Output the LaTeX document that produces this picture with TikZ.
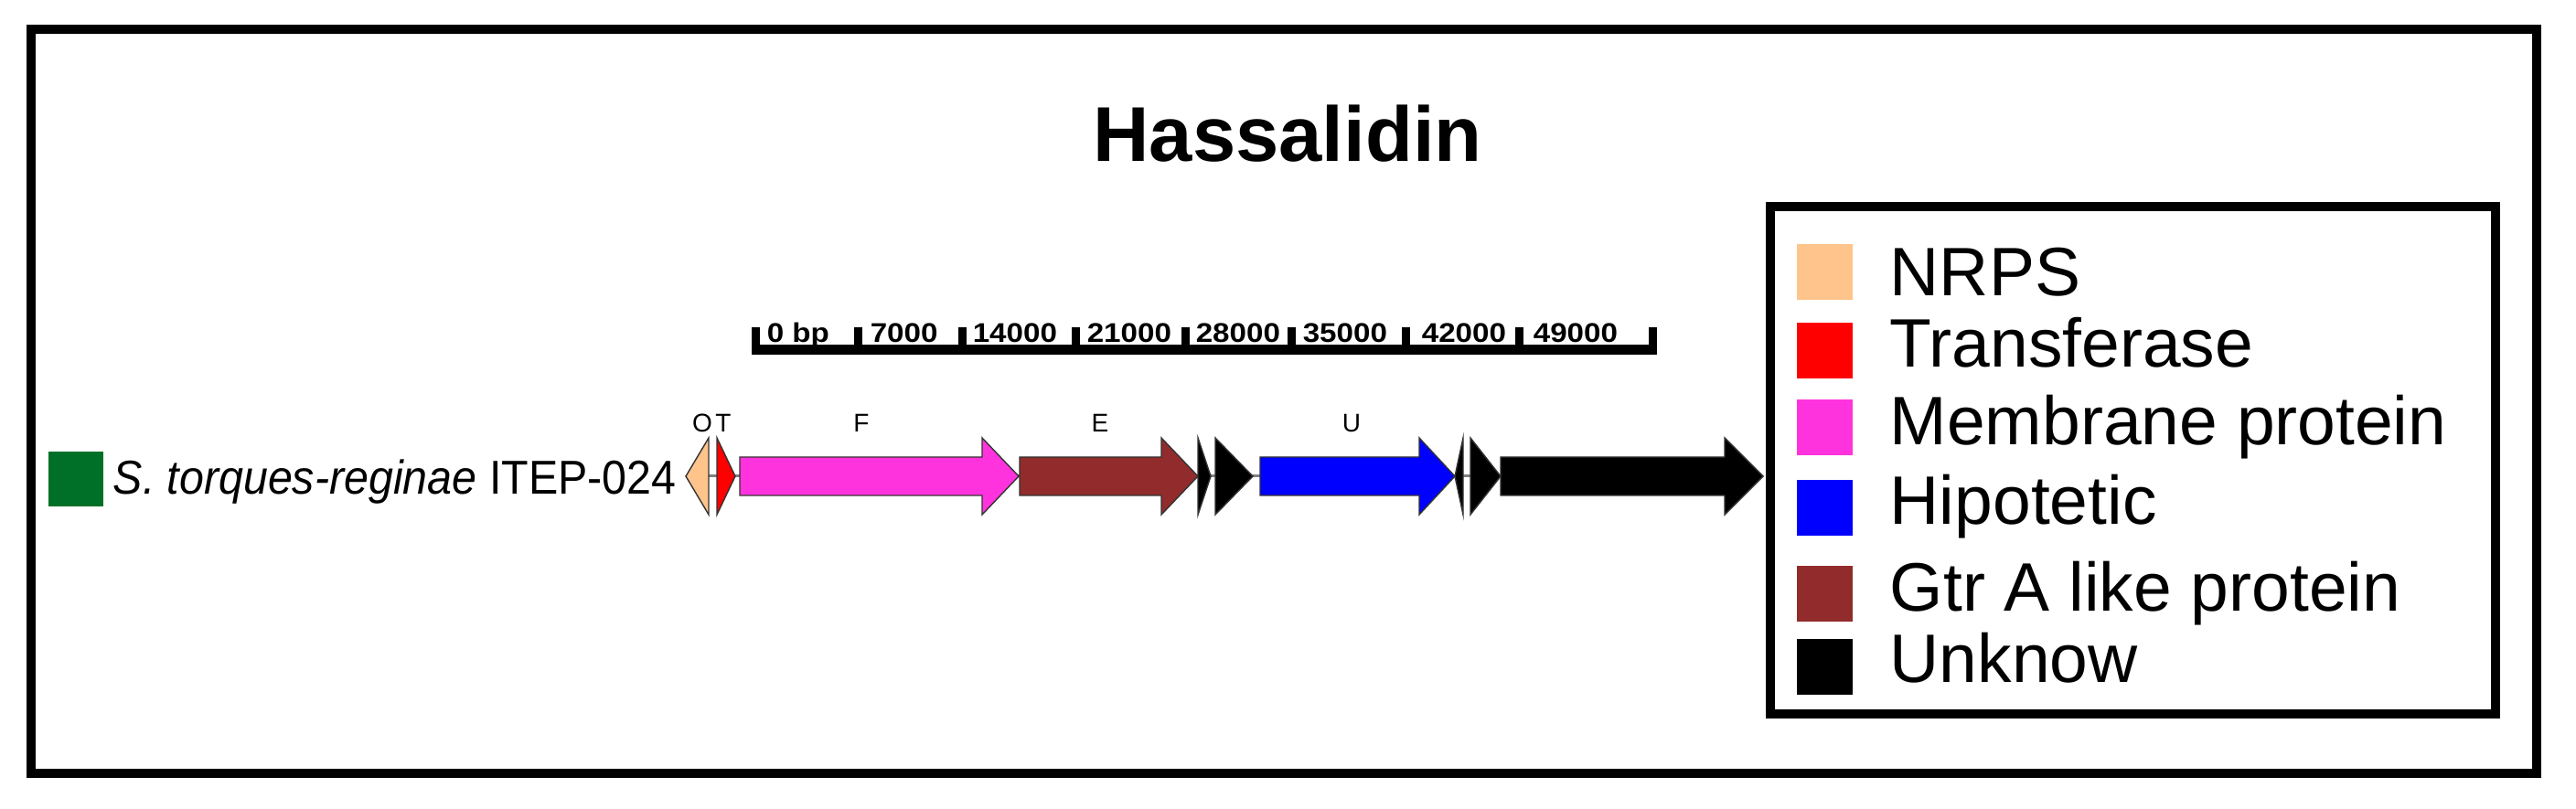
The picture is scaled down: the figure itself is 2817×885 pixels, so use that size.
\documentclass[tikz,border=0pt]{standalone}
\usepackage{fontspec}
\setmainfont{Liberation Sans}
\definecolor{nrps}{RGB}{255,196,140}
\definecolor{transf}{RGB}{255,0,0}
\definecolor{membr}{RGB}{255,51,221}
\definecolor{hipo}{RGB}{0,0,255}
\definecolor{gtr}{RGB}{146,43,43}
\definecolor{sgreen}{RGB}{0,112,40}
\definecolor{backbone}{RGB}{128,128,128}
\tikzset{
  frame/.style={draw=black, line width=2.5pt},
  gene/.style={draw=black!80, line width=0.35pt},
  legtext/.style={anchor=base west, inner sep=0pt, font=\fontsize{18.75}{20}\selectfont},
  genelabel/.style={anchor=base, inner sep=0pt, font=\fontsize{7}{8}\selectfont},
  scalelabel/.style={anchor=base west, inner sep=0pt, font=\bfseries\fontsize{7.4}{8}\selectfont},
  tickmark/.style={fill=black, draw=none}
}
\newcommand{\sclab}[1]{\scalebox{1.12}[1]{#1}}
\newcommand{\rgene}[4]{% x1, x2, headstart, color
  \filldraw[gene, fill=#4] (#1,500) -- (#3,500) -- (#3,479) -- (#2,521) -- (#3,563) -- (#3,542) -- (#1,542) -- cycle;}
\newcommand{\rtri}[3]{% x1, x2, color
  \filldraw[gene, fill=#3] (#1,479) -- (#2,521) -- (#1,563) -- cycle;}
\newcommand{\ltri}[3]{% x1 (tip), x2, color
  \filldraw[gene, fill=#3] (#2,479) -- (#1,521) -- (#2,563) -- cycle;}
\begin{document}
\begin{tikzpicture}[x=0.25pt, y=-0.25pt]
  \useasboundingbox (0,0) rectangle (2817,885);
  % outer frame
  \draw[frame] (34,32) rectangle (2774,846);
  % title
  \node[anchor=base, inner sep=0pt, font=\bfseries\fontsize{21.25}{24}\selectfont] (title) at (1408,177) {Hassalidin};
  % scale bar
  \fill (822,377) rectangle (1812,388);
  \foreach \tx in {822,934,1048,1172,1292,1408,1533,1657,1803} {
    \fill[tickmark] (\tx,358) rectangle (\tx+9,388);
  }
  \node[scalelabel] (s0) at (838,375) {\sclab{0 bp}};
  \node[scalelabel] (s1) at (951,375) {\sclab{7000}};
  \node[scalelabel] (s2) at (1063,375) {\sclab{14000}};
  \node[scalelabel] (s3) at (1188,375) {\sclab{21000}};
  \node[scalelabel] (s4) at (1307,375) {\sclab{28000}};
  \node[scalelabel] (s5) at (1424,375) {\sclab{35000}};
  \node[scalelabel] (s6) at (1554,375) {\sclab{42000}};
  \node[scalelabel] (s7) at (1676,375) {\sclab{49000}};
  % species
  \fill[sgreen] (53,494) rectangle (113,554);
  \node[anchor=base west, inner sep=0pt, font=\fontsize{13}{15}\selectfont] (species) at (123,541) {\scalebox{0.93}[1]{\textit{S. torques-reginae} ITEP-024}};
  % backbone
  \draw[backbone, line width=0.75pt] (775,521) -- (1641,521);
  % genes
  \ltri{750}{775}{nrps}
  \rtri{784}{804}{transf}
  \rgene{809}{1114}{1074}{membr}
  \rgene{1115}{1310}{1270}{gtr}
  \rtri{1310}{1324}{black}
  \rtri{1329}{1370}{black}
  \rgene{1378}{1591}{1552}{hipo}
  \ltri{1591}{1600}{black}
  \rtri{1608}{1641}{black}
  \rgene{1641}{1928}{1886}{black}
  % gene labels
  \node[genelabel] (lO) at (768,473) {O};
  \node[genelabel] (lT) at (791,473) {T};
  \node[genelabel] (lF) at (942,473) {F};
  \node[genelabel] (lE) at (1203,473) {E};
  \node[genelabel] (lU) at (1478,473) {U};
  % legend
  \draw[frame] (1936,226) rectangle (2729,781);
  \fill[nrps]   (1965,267) rectangle (2026,328);
  \fill[transf] (1965,353) rectangle (2026,414);
  \fill[membr]  (1965,437) rectangle (2026,498);
  \fill[hipo]   (1965,525) rectangle (2026,586);
  \fill[gtr]    (1965,619) rectangle (2026,680);
  \fill[black]  (1965,699) rectangle (2026,760);
  \node[legtext] (g1) at (2066,324) {NRPS};
  \node[legtext] (g2) at (2066,402) {Transferase};
  \node[legtext] (g3) at (2066,487) {Membrane protein};
  \node[legtext] (g4) at (2066,574) {Hipotetic};
  \node[legtext] (g5) at (2066,669) {Gtr A like protein};
  \node[legtext] (g6) at (2066,747) {Unknow};
\end{tikzpicture}
\end{document}
